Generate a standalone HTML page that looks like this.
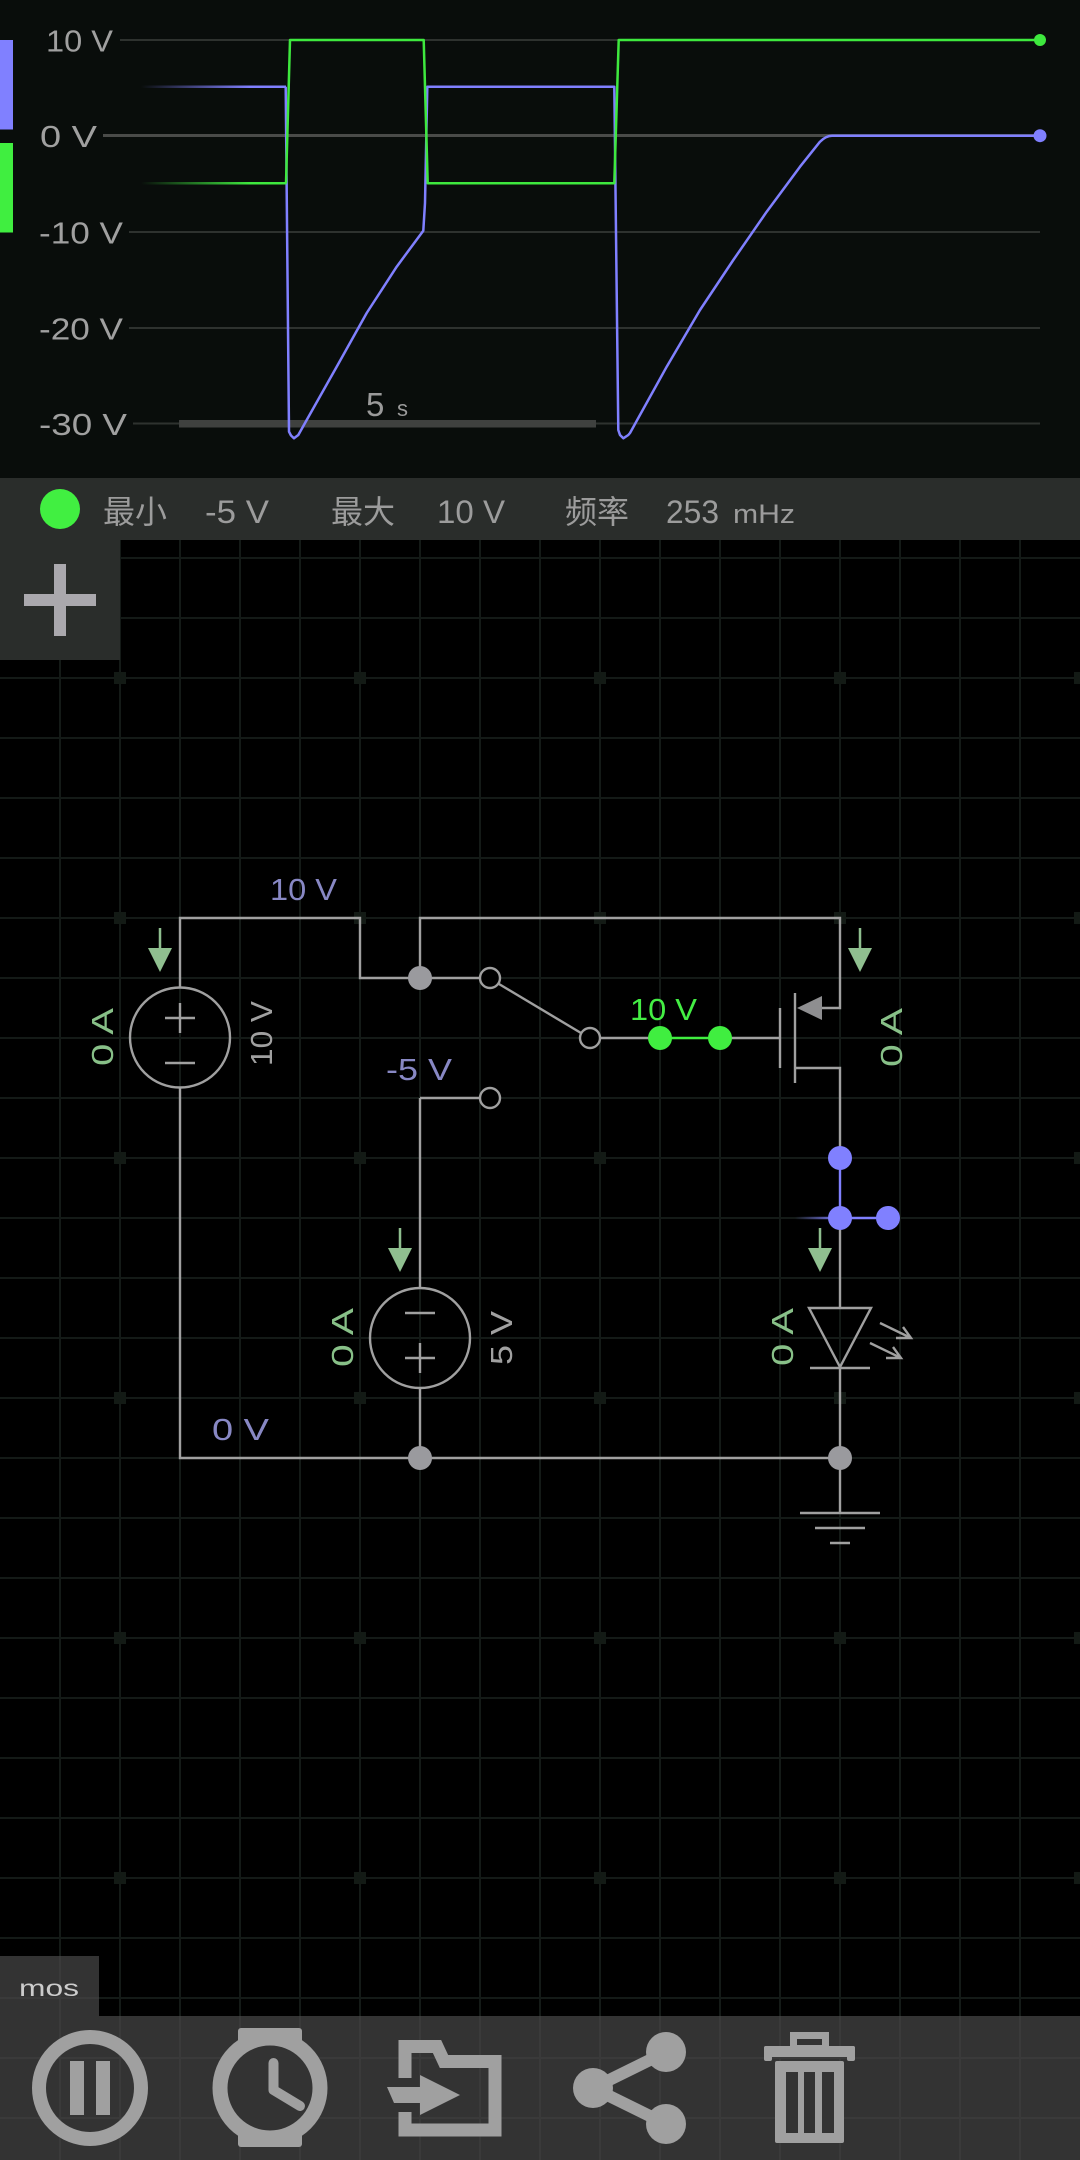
<!DOCTYPE html>
<html><head><meta charset="utf-8"><style>
html,body{margin:0;padding:0;background:#000;width:1080px;height:2160px;overflow:hidden}
svg{display:block}
text{font-family:"Liberation Sans","Noto Sans CJK SC",sans-serif}
</style></head><body>
<svg width="1080" height="2160" viewBox="0 0 1080 2160" xmlns="http://www.w3.org/2000/svg">
<defs>
<linearGradient id="gfade" gradientUnits="userSpaceOnUse" x1="141" y1="0" x2="250" y2="0"><stop offset="0" stop-color="#3ee83e" stop-opacity="0"/><stop offset="1" stop-color="#3ee83e" stop-opacity="1"/></linearGradient>
<linearGradient id="bfade" gradientUnits="userSpaceOnUse" x1="141" y1="0" x2="250" y2="0"><stop offset="0" stop-color="#8080ff" stop-opacity="0"/><stop offset="1" stop-color="#8080ff" stop-opacity="1"/></linearGradient>
<linearGradient id="wfade" gradientUnits="userSpaceOnUse" x1="795" y1="0" x2="840" y2="0"><stop offset="0" stop-color="#8080ff" stop-opacity="0"/><stop offset="1" stop-color="#8080ff" stop-opacity="1"/></linearGradient>
</defs>
<rect width="1080" height="2160" fill="#000"/>

<!-- ===== Scope ===== -->
<rect x="0" y="0" width="1080" height="478" fill="#090d0b"/>
<g stroke="#2e322f" stroke-width="2">
<line x1="120" y1="40" x2="1040" y2="40"/>
<line x1="129" y1="232" x2="1040" y2="232"/>
<line x1="129" y1="328" x2="1040" y2="328"/>
<line x1="133" y1="423.5" x2="1040" y2="423.5"/>
</g>
<line x1="103" y1="135.5" x2="1040" y2="135.5" stroke="#4a4b49" stroke-width="3"/>
<g fill="#a0a0a0" font-size="31">
<text x="46" y="51.5" textLength="67" lengthAdjust="spacingAndGlyphs">10 V</text>
<text x="40" y="147" textLength="57" lengthAdjust="spacingAndGlyphs">0 V</text>
<text x="39" y="243.5" textLength="84" lengthAdjust="spacingAndGlyphs">-10 V</text>
<text x="39" y="339.5" textLength="84" lengthAdjust="spacingAndGlyphs">-20 V</text>
<text x="39" y="435" textLength="88" lengthAdjust="spacingAndGlyphs">-30 V</text>
</g>
<rect x="0" y="40" width="13" height="89.5" fill="#8080ff"/>
<rect x="0" y="143" width="13" height="89.5" fill="#40ee40"/>
<rect x="179" y="420" width="417" height="7.5" fill="#3f413f"/>
<text x="366" y="416" font-size="33" fill="#9a9a9a">5</text>
<text x="397" y="416" font-size="22" fill="#9a9a9a">s</text>

<g fill="none" stroke-width="2.5" stroke-linejoin="round">
<path d="M141,86.7 H286" stroke="url(#bfade)"/>
<path d="M285.7,86.7 L289,431.7 L291,435.5 L294,438.3 L298.3,435 L306.7,420 L336.7,366.7 L366.7,313 L396.7,266.7 L423.3,230.7 L425,203 L427.3,86.7 H614.3 L618.3,430 L620,435 L623.3,438.3 L628.3,435 L630,433 L666.7,366.7 L700,310 L733.3,260 L766.7,211.7 L800,166.7 L820,141.7 Q826,135.7 832,135.7 H1040" stroke="#8080ff"/>
<path d="M141,183.3 H286.5" stroke="url(#gfade)"/>
<path d="M286,183.3 L290,40 H423.7 L427.7,183.3 H614.3 L618.7,40 H1040" stroke="#3ee83e"/>
</g>
<circle cx="1040" cy="40" r="6" fill="#3ee83e"/>
<circle cx="1040" cy="135.7" r="6.5" fill="#8080ff"/>

<!-- ===== Info bar ===== -->
<rect x="0" y="478" width="1080" height="62" fill="#2a2d2b"/>
<circle cx="60" cy="509" r="20" fill="#41ef41"/>
<g fill="#9c9c9c" font-size="32">
<text x="103" y="523">最小</text>
<text x="205" y="523" textLength="64" lengthAdjust="spacingAndGlyphs">-5 V</text>
<text x="331" y="523">最大</text>
<text x="437" y="523" textLength="68" lengthAdjust="spacingAndGlyphs">10 V</text>
<text x="565" y="523">频率</text>
<text x="666" y="523" textLength="53" lengthAdjust="spacingAndGlyphs">253</text>
<text x="733" y="523" font-size="27" textLength="62" lengthAdjust="spacingAndGlyphs">mHz</text>
</g>

<!-- ===== Grid ===== -->
<path stroke="#141a17" stroke-width="2" fill="none" d="M60 540V2160M120 540V2160M180 540V2160M240 540V2160M300 540V2160M360 540V2160M420 540V2160M480 540V2160M540 540V2160M600 540V2160M660 540V2160M720 540V2160M780 540V2160M840 540V2160M900 540V2160M960 540V2160M1020 540V2160
M0 558H1080M0 618H1080M0 678H1080M0 738H1080M0 798H1080M0 858H1080M0 918H1080M0 978H1080M0 1038H1080M0 1098H1080M0 1158H1080M0 1218H1080M0 1278H1080M0 1338H1080M0 1398H1080M0 1458H1080M0 1518H1080M0 1578H1080M0 1638H1080M0 1698H1080M0 1758H1080M0 1818H1080M0 1878H1080M0 1938H1080M0 1998H1080M0 2058H1080M0 2118H1080"/>
<path fill="#131a15" d="M114 672h12v12h-12zM114 912h12v12h-12zM114 1152h12v12h-12zM114 1392h12v12h-12zM114 1632h12v12h-12zM114 1872h12v12h-12zM114 2112h12v12h-12z
M354 672h12v12h-12zM354 912h12v12h-12zM354 1152h12v12h-12zM354 1392h12v12h-12zM354 1632h12v12h-12zM354 1872h12v12h-12zM354 2112h12v12h-12z
M594 672h12v12h-12zM594 912h12v12h-12zM594 1152h12v12h-12zM594 1392h12v12h-12zM594 1632h12v12h-12zM594 1872h12v12h-12zM594 2112h12v12h-12z
M834 672h12v12h-12zM834 912h12v12h-12zM834 1152h12v12h-12zM834 1392h12v12h-12zM834 1632h12v12h-12zM834 1872h12v12h-12zM834 2112h12v12h-12z
M1074 672h12v12h-12zM1074 912h12v12h-12zM1074 1152h12v12h-12zM1074 1392h12v12h-12zM1074 1632h12v12h-12zM1074 1872h12v12h-12zM1074 2112h12v12h-12z"/>

<!-- Plus button -->
<rect x="0" y="540" width="120" height="120" fill="#2a2d2b"/>
<rect x="54" y="564" width="12" height="72" fill="#aaa8ad"/>
<rect x="24" y="594" width="72" height="12" fill="#aaa8ad"/>

<!-- ===== Circuit ===== -->
<g fill="none" stroke="#a0a0a0" stroke-width="2.4">
<path d="M180,987.5 V918 H360 V978 H480"/>
<path d="M420,978 V918 H840 V1008 H820"/>
<path d="M180,1087.5 V1458 H840"/>
<path d="M420,1098 H480"/>
<path d="M420,1098 V1288"/>
<path d="M420,1388 V1458"/>
<line x1="499" y1="984" x2="581" y2="1033"/>
<line x1="600" y1="1038" x2="650" y2="1038"/>
<line x1="730" y1="1038" x2="780" y2="1038"/>
<line x1="780" y1="1008" x2="780" y2="1068"/>
<line x1="795" y1="993" x2="795" y2="1083"/>
<path d="M795,1068 H840 V1150"/>
<path d="M840,1226 V1308"/>
<path d="M840,1368 V1513"/>
<circle cx="180" cy="1037.5" r="50"/>
<circle cx="420" cy="1338" r="50"/>
<path d="M165,1018 H195 M180,1003 V1033 M165,1063 H195"/>
<path d="M405,1313 H435 M405,1358 H435 M420,1343 V1373"/>
<polygon points="809,1308 871,1308 840,1367" stroke-linejoin="miter"/>
<line x1="810" y1="1368" x2="870" y2="1368"/>
<path d="M800,1513 H880 M815,1528 H865 M830,1543 H850"/>
<path d="M880,1323 L911,1338 M903,1327 L911,1338 L896,1338"/>
<path d="M870,1343 L901,1358 M893,1347 L901,1358 L886,1358"/>
</g>
<g fill="#000" stroke="#a0a0a0" stroke-width="2.4">
<circle cx="490" cy="978" r="10"/>
<circle cx="490" cy="1098" r="10"/>
<circle cx="590" cy="1038" r="10"/>
</g>
<polygon points="797,1008 822,996 822,1020" fill="#8e8e90"/>
<g fill="#9a9a9e">
<circle cx="420" cy="978" r="12"/>
<circle cx="420" cy="1458" r="12"/>
<circle cx="840" cy="1458" r="12"/>
</g>
<!-- green node -->
<line x1="660" y1="1038" x2="720" y2="1038" stroke="#40ee40" stroke-width="2.4"/>
<circle cx="660" cy="1038" r="12" fill="#40ee40"/>
<circle cx="720" cy="1038" r="12" fill="#40ee40"/>
<!-- blue node -->
<path d="M795,1218 H840" stroke="url(#wfade)" stroke-width="2.4" fill="none"/>
<path d="M840,1158 V1218 H888" stroke="#8080ff" stroke-width="2.4" fill="none"/>
<circle cx="840" cy="1158" r="12" fill="#8080ff"/>
<circle cx="840" cy="1218" r="12" fill="#8080ff"/>
<circle cx="888" cy="1218" r="12" fill="#8080ff"/>
<!-- current arrows -->
<g stroke="#8fbf8f" stroke-width="2.5" fill="#8fbf8f">
<line x1="160" y1="928" x2="160" y2="950"/><polygon points="148,948 172,948 160,972" stroke="none"/>
<line x1="860" y1="928" x2="860" y2="950"/><polygon points="848,948 872,948 860,972" stroke="none"/>
<line x1="400" y1="1228" x2="400" y2="1250"/><polygon points="388,1248 412,1248 400,1272" stroke="none"/>
<line x1="820" y1="1228" x2="820" y2="1250"/><polygon points="808,1248 832,1248 820,1272" stroke="none"/>
</g>
<!-- labels -->
<g font-size="31">
<text x="270" y="900" fill="#8888c4" textLength="67" lengthAdjust="spacingAndGlyphs">10 V</text>
<text x="386" y="1080" fill="#8888c4" textLength="66" lengthAdjust="spacingAndGlyphs">-5 V</text>
<text x="212" y="1440" fill="#8888c4" textLength="57" lengthAdjust="spacingAndGlyphs">0 V</text>
<text x="630" y="1020" fill="#44ee44" textLength="67" lengthAdjust="spacingAndGlyphs">10 V</text>
<text transform="translate(113,1037) rotate(-90)" text-anchor="middle" fill="#88c088" textLength="58" lengthAdjust="spacingAndGlyphs">0 A</text>
<text transform="translate(272,1033.5) rotate(-90)" text-anchor="middle" fill="#a0a0a0" textLength="65" lengthAdjust="spacingAndGlyphs">10 V</text>
<text transform="translate(902,1037.5) rotate(-90)" text-anchor="middle" fill="#88c088" textLength="59" lengthAdjust="spacingAndGlyphs">0 A</text>
<text transform="translate(353,1337.5) rotate(-90)" text-anchor="middle" fill="#88c088" textLength="59" lengthAdjust="spacingAndGlyphs">0 A</text>
<text transform="translate(512,1338) rotate(-90)" text-anchor="middle" fill="#a0a0a0" textLength="54" lengthAdjust="spacingAndGlyphs">5 V</text>
<text transform="translate(793,1337) rotate(-90)" text-anchor="middle" fill="#88c088" textLength="58" lengthAdjust="spacingAndGlyphs">0 A</text>
</g>

<!-- ===== mos label ===== -->
<rect x="0" y="1956" width="99" height="60" fill="#333333"/>
<path d="M60 1956V2016M0 1998H99" stroke="#3a3a3a" stroke-width="2"/>
<text x="19" y="1996" font-size="23" fill="#cccccc" textLength="60" lengthAdjust="spacingAndGlyphs">mos</text>

<!-- ===== Toolbar ===== -->
<rect x="0" y="2016" width="1080" height="144" fill="#333333"/>
<path stroke="#3a3a3a" stroke-width="2" fill="none" d="M60 2016V2160M120 2016V2160M180 2016V2160M240 2016V2160M300 2016V2160M360 2016V2160M420 2016V2160M480 2016V2160M540 2016V2160M600 2016V2160M660 2016V2160M720 2016V2160M780 2016V2160M840 2016V2160M900 2016V2160M960 2016V2160M1020 2016V2160M0 2058H1080M0 2118H1080"/>
<g fill="#a0a0a0">
<!-- pause -->
<circle cx="90" cy="2088" r="51" fill="none" stroke="#a0a0a0" stroke-width="14"/>
<rect x="70" y="2061" width="14" height="54"/>
<rect x="96" y="2061" width="14" height="54"/>
<!-- watch -->
<rect x="238" y="2028" width="64" height="24" rx="3"/>
<rect x="238" y="2124" width="64" height="23" rx="3"/>
<circle cx="270" cy="2088" r="50" fill="#333333" stroke="#a0a0a0" stroke-width="15"/>
<path d="M273.5,2063 V2090 L300,2106" fill="none" stroke="#a0a0a0" stroke-width="10" stroke-linecap="round" stroke-linejoin="round"/>
<!-- import -->
<path d="M405,2078 V2046.5 H437 L444,2061.5 H495 V2130 H405 V2112" fill="none" stroke="#a0a0a0" stroke-width="13" stroke-linejoin="miter"/>
<polygon points="387,2087 420,2087 420,2075 460,2095 420,2115 420,2103 394,2103"/>
<!-- share -->
<line x1="593" y1="2088" x2="666" y2="2052" stroke="#a0a0a0" stroke-width="12"/>
<line x1="593" y1="2088" x2="666" y2="2124" stroke="#a0a0a0" stroke-width="12"/>
<circle cx="666" cy="2052" r="20"/>
<circle cx="593" cy="2088" r="20"/>
<circle cx="666" cy="2124" r="20"/>
<!-- trash -->
<rect x="793.5" y="2035.5" width="32" height="13" fill="none" stroke="#a0a0a0" stroke-width="7"/>
<rect x="764" y="2046" width="91" height="11" rx="2"/>
<rect x="764" y="2046" width="8" height="15" rx="2"/>
<rect x="847" y="2046" width="8" height="15" rx="2"/>
<rect x="775" y="2061" width="69" height="82" rx="2"/>
<rect x="786" y="2072" width="12" height="61" fill="#333333"/>
<rect x="804" y="2072" width="11" height="61" fill="#333333"/>
<rect x="822" y="2072" width="12" height="61" fill="#333333"/>
</g>
</svg>
</body></html>
